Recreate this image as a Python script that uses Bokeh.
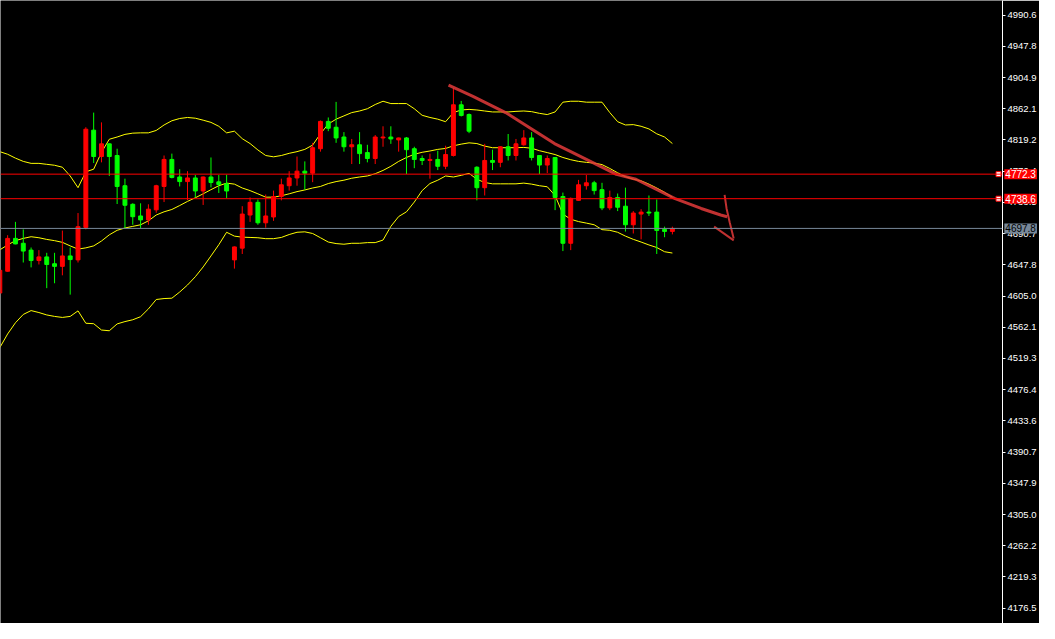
from bokeh.plotting import figure
from bokeh.models import Range1d, FixedTicker, Span, ColumnDataSource, PrintfTickFormatter, Text
from bokeh.core.properties import value
from bokeh.embed import file_html
from bokeh.resources import INLINE

# ---------------- data ----------------
bar_index = list(range(-1, 86))

opens = [4609.1, 4639.0, 4684.1, 4677.4, 4668.0, 4653.7, 4658.7, 4649.3, 4645.7, 4660.0,
         4654.6, 4699.2, 4832.7, 4796.5, 4813.9, 4797.9, 4756.4, 4730.9, 4714.9, 4709.5,
         4723.3, 4755.4, 4792.5, 4768.4, 4762.1, 4767.1, 4749.2, 4768.4, 4761.7, 4759.0,
         4654.6, 4670.7, 4716.2, 4733.6, 4705.5, 4713.5, 4741.6, 4756.4, 4767.1, 4776.4,
         4773.7, 4807.2, 4844.7, 4836.7, 4823.3, 4809.9, 4812.6, 4801.9, 4793.8, 4822.0,
         4823.3, 4819.3, 4822.0, 4807.2, 4793.8, 4791.1, 4792.5, 4783.1, 4797.9, 4867.5,
         4854.2, 4781.8, 4753.7, 4791.1, 4788.5, 4809.9, 4797.9, 4812.6, 4822.0, 4797.9,
         4784.8, 4795.2, 4741.6, 4677.4, 4736.3, 4756.4, 4760.4, 4751.0, 4726.0, 4740.3,
         4728.3, 4702.8, 4717.5, 4720.2, 4720.2, 4696.4, 4693.7]

highs = [4641.5, 4688.5, 4706.8, 4696.5, 4671.6, 4668.0, 4664.3, 4664.3, 4694.8, 4671.6,
         4718.9, 4836.7, 4856.8, 4843.4, 4814.5, 4807.2, 4766.1, 4732.3, 4732.3, 4730.9,
         4757.7, 4797.9, 4800.5, 4779.1, 4776.4, 4771.1, 4769.0, 4795.2, 4771.1, 4771.5,
         4673.0, 4728.3, 4740.3, 4737.6, 4744.3, 4749.7, 4766.1, 4776.4, 4796.5, 4789.8,
         4815.3, 4846.0, 4850.1, 4871.5, 4830.0, 4820.6, 4830.0, 4812.6, 4826.0, 4838.0,
         4838.0, 4822.5, 4823.3, 4809.9, 4797.9, 4800.5, 4804.5, 4811.3, 4890.2, 4872.8,
         4855.6, 4783.1, 4813.9, 4805.9, 4810.5, 4827.4, 4820.6, 4832.7, 4830.0, 4798.5,
         4797.9, 4795.8, 4747.0, 4740.3, 4764.4, 4771.1, 4763.1, 4760.4, 4749.7, 4745.7,
         4753.8, 4721.6, 4724.2, 4743.0, 4737.6, 4700.2, 4700.2]

lows = [4607.5, 4638.5, 4676.0, 4651.0, 4644.3, 4648.3, 4615.8, 4622.5, 4633.4, 4606.9,
        4651.0, 4696.5, 4787.6, 4788.5, 4769.8, 4731.3, 4698.4, 4702.8, 4698.4, 4702.8,
        4719.3, 4734.0, 4766.5, 4755.4, 4736.7, 4740.7, 4730.0, 4754.1, 4746.5, 4739.4,
        4642.6, 4662.7, 4706.8, 4702.8, 4698.8, 4708.2, 4736.3, 4749.7, 4756.4, 4751.0,
        4761.3, 4803.2, 4831.3, 4815.3, 4803.2, 4786.2, 4786.2, 4788.5, 4786.2, 4809.9,
        4813.9, 4803.2, 4772.5, 4780.5, 4784.8, 4766.1, 4777.9, 4779.1, 4796.5, 4851.5,
        4828.6, 4736.3, 4743.0, 4777.9, 4781.8, 4791.1, 4791.1, 4811.3, 4791.1, 4772.5,
        4773.8, 4722.9, 4666.7, 4668.0, 4735.8, 4751.0, 4744.3, 4722.9, 4722.9, 4721.6,
        4693.5, 4690.8, 4682.8, 4714.9, 4662.7, 4685.7, 4689.6]

closes = [4640.3, 4684.1, 4676.5, 4666.7, 4653.7, 4658.7, 4648.3, 4645.7, 4660.0, 4655.0,
          4700.2, 4834.0, 4796.5, 4813.9, 4796.5, 4755.4, 4729.6, 4713.9, 4709.5, 4724.2,
          4756.4, 4792.5, 4767.8, 4762.1, 4767.1, 4749.2, 4768.4, 4760.8, 4758.1, 4749.2,
          4672.4, 4717.5, 4733.6, 4705.5, 4714.9, 4741.6, 4757.7, 4767.1, 4776.4, 4773.7,
          4808.6, 4844.7, 4835.3, 4822.0, 4809.9, 4812.6, 4800.5, 4793.8, 4823.3, 4823.3,
          4820.6, 4822.0, 4805.9, 4792.5, 4791.1, 4792.5, 4783.1, 4799.2, 4867.5, 4852.9,
          4831.3, 4753.7, 4791.1, 4788.5, 4809.9, 4797.9, 4813.9, 4822.0, 4795.2, 4784.8,
          4793.8, 4740.3, 4677.4, 4739.0, 4757.7, 4760.4, 4749.7, 4726.0, 4740.3, 4726.9,
          4702.8, 4718.9, 4720.2, 4718.9, 4695.1, 4693.7, 4697.8]

bb_upper = [4803.2, 4799.6, 4794.3, 4789.8, 4787.1, 4787.1, 4785.8, 4784.5, 4781.8, 4769.8,
            4753.7, 4775.5, 4779.1, 4802.3, 4820.2, 4823.3, 4826.9, 4828.6, 4829.0, 4829.0,
            4832.3, 4839.8, 4845.6, 4848.7, 4850.1, 4849.1, 4846.4, 4843.4, 4838.0, 4829.0,
            4831.3, 4821.0, 4814.3, 4805.5, 4797.9, 4796.1, 4797.9, 4800.9, 4803.2, 4806.3,
            4812.2, 4827.7, 4841.1, 4847.8, 4852.3, 4856.8, 4859.0, 4862.1, 4867.9, 4872.4,
            4869.2, 4869.2, 4869.2, 4862.1, 4853.1, 4850.1, 4847.8, 4844.3, 4856.8, 4860.4,
            4861.2, 4860.4, 4859.0, 4857.7, 4857.7, 4857.7, 4858.5, 4859.0, 4858.1, 4855.8,
            4854.1, 4857.7, 4871.1, 4872.4, 4872.4, 4871.1, 4871.1, 4871.1, 4856.8, 4844.3,
            4839.8, 4840.3, 4838.0, 4834.4, 4827.7, 4823.3, 4814.3]

bb_middle = [4668.4, 4675.1, 4681.0, 4684.1, 4686.4, 4685.0, 4682.7, 4681.0, 4678.7, 4673.8,
             4669.4, 4671.1, 4673.8, 4680.5, 4689.0, 4695.2, 4698.4, 4700.6, 4702.8, 4708.2,
             4716.2, 4720.6, 4723.8, 4729.2, 4734.9, 4739.9, 4745.3, 4751.0, 4756.4, 4760.0,
             4758.6, 4753.3, 4749.7, 4745.3, 4740.7, 4740.7, 4742.6, 4745.3, 4748.3, 4750.6,
             4753.3, 4755.4, 4759.4, 4762.1, 4764.0, 4766.7, 4768.4, 4769.8, 4772.9, 4777.4,
             4783.1, 4789.8, 4795.2, 4799.6, 4802.3, 4804.1, 4806.3, 4807.6, 4811.2, 4813.5,
             4815.3, 4814.3, 4810.8, 4808.6, 4808.6, 4808.6, 4808.6, 4809.0, 4807.9, 4804.5,
             4801.9, 4799.2, 4795.2, 4792.1, 4789.8, 4788.5, 4787.5, 4785.4, 4780.1, 4774.2,
             4768.8, 4765.3, 4763.1, 4758.6, 4753.3, 4747.4, 4740.7]

bb_lower = [4534.2, 4552.9, 4568.3, 4579.7, 4585.0, 4582.3, 4579.0, 4577.0, 4575.6, 4577.0,
            4584.6, 4567.6, 4567.0, 4558.3, 4557.3, 4566.7, 4569.9, 4572.4, 4576.6, 4587.3,
            4600.2, 4601.5, 4602.0, 4610.5, 4620.1, 4631.5, 4644.9, 4660.0, 4675.4, 4692.5,
            4687.2, 4685.8, 4685.4, 4685.0, 4683.7, 4683.7, 4685.4, 4689.4, 4692.5, 4693.1,
            4690.8, 4685.0, 4679.1, 4677.0, 4676.1, 4677.4, 4677.4, 4678.3, 4678.3, 4681.8,
            4700.6, 4714.1, 4720.6, 4734.0, 4749.7, 4759.4, 4764.0, 4769.8, 4768.4, 4770.7,
            4773.4, 4765.3, 4760.8, 4759.0, 4759.0, 4759.0, 4759.0, 4760.0, 4758.6, 4756.4,
            4755.0, 4743.0, 4717.5, 4710.4, 4707.2, 4705.1, 4702.8, 4696.1, 4695.2, 4692.5,
            4687.2, 4682.8, 4679.1, 4675.1, 4671.6, 4665.8, 4664.0]

price_ticks = [4990.6, 4947.8, 4904.9, 4862.1, 4819.2, 4776.4, 4733.5, 4690.7, 4647.8, 4605.0,
               4562.1, 4519.3, 4476.4, 4433.6, 4390.7, 4347.9, 4305.0, 4262.2, 4219.3, 4176.5]

level_prices = [4772.3, 4738.6]
level_labels = ["4772.3", "4738.6"]
last_price = 4697.8
last_label = "4697.8"

# hand-drawn trend line and arrow (bar index, price)
trend_x = [56.375, 59.5, 63.675, 67.0, 69.925, 72.84, 75.34, 77.84, 80.34, 82.84, 85.34, 88.675, 91.175, 92.0]
trend_y = [4894.6, 4879.1, 4856.8, 4834.4, 4814.3, 4798.8, 4785.4, 4772.0, 4765.3, 4752.0, 4738.6, 4725.2, 4716.2, 4713.9]
arrow1_x = [91.675, 91.925, 92.34, 92.84]
arrow1_y = [4743.9, 4725.2, 4705.5, 4684.1]
arrow2_x = [90.34, 92.84]
arrow2_y = [4700.2, 4681.4]

# ---------------- figure ----------------
RED = "#ff0000"
GREEN = "#00ff00"
X_END = 127.21

p = figure(width=1039, height=623, output_backend="svg", toolbar_location=None,
           x_range=Range1d(-0.9125, X_END), y_range=Range1d(4155.4, 5010.7),
           x_axis_location=None, y_axis_location="right",
           background_fill_color="black", border_fill_color="black",
           min_border_left=0, min_border_top=0, min_border_bottom=0, min_border_right=0)
p.outline_line_color = None
p.xgrid.grid_line_color = None
p.ygrid.grid_line_color = None

ax = p.yaxis[0]
ax.ticker = FixedTicker(ticks=price_ticks)
ax.formatter = PrintfTickFormatter(format="%.1f")
ax.axis_line_color = "white"
ax.major_tick_line_color = "white"
ax.major_tick_in = 0
ax.major_tick_out = 3
ax.minor_tick_line_color = None
ax.major_label_text_color = "white"
ax.major_label_text_font = "Liberation Sans"
ax.major_label_text_font_size = "9.5px"
ax.major_label_standoff = 2

colors = [RED if c >= o else GREEN for o, c in zip(opens, closes)]
src = ColumnDataSource(dict(
    x=bar_index, o=opens, h=highs, l=lows, c=closes,
    top=[max(o, c) for o, c in zip(opens, closes)],
    bottom=[min(o, c) for o, c in zip(opens, closes)],
    color=colors))

# Bollinger bands
for band in (bb_upper, bb_middle, bb_lower):
    p.line(bar_index, band, line_color="#ffff00", line_width=1)

# horizontal levels
for lv in level_prices:
    p.add_layout(Span(location=lv, dimension="width", line_color=RED, line_width=1))
p.add_layout(Span(location=last_price, dimension="width", line_color="#778899", line_width=1))

# candles
p.segment(x0="x", y0="l", x1="x", y1="h", source=src, line_color="color", line_width=1)
p.vbar(x="x", width=0.5, top="top", bottom="bottom", source=src,
       fill_color="color", line_color="color", line_width=1)

# trend line drawing
p.line(trend_x, trend_y, line_color="#e23a3a", line_width=3, line_alpha=0.85)
p.line(arrow1_x, arrow1_y, line_color="#e23a3a", line_width=2, line_alpha=0.85)
p.line(arrow2_x, arrow2_y, line_color="#e23a3a", line_width=2, line_alpha=0.85)

# level anchors
p.scatter([126.7] * len(level_prices), level_prices, marker="square", size=5,
          fill_color="white", line_color=RED, line_width=1)

# price tags drawn over the axis strip (overlay level -> not clipped to the frame)
tag_src = ColumnDataSource(dict(
    x=[X_END - 0.02] * 3,
    y=level_prices + [last_price],
    text=level_labels + [last_label],
    bg=[RED, RED, "#778899"],
    fg=["white", "white", "black"]))
has_bg = "background_fill_color" in Text.properties()
if has_bg:
    p.text(x="x", y="y", text="text", source=tag_src, x_offset=2,
           text_color="fg", text_font=value("Liberation Sans"), text_font_size="10px",
           text_baseline="middle", text_align="left",
           background_fill_color="bg", padding=1, level="overlay")
else:
    p.quad(left="x", right=[X_END + 4.0] * 3,
           bottom=[v - 4.0 for v in level_prices + [last_price]],
           top=[v + 4.0 for v in level_prices + [last_price]],
           source=tag_src, fill_color="bg", line_color=None, level="overlay")
    p.text(x="x", y="y", text="text", source=tag_src, x_offset=3,
           text_color="fg", text_font=value("Liberation Sans"), text_font_size="10px",
           text_baseline="middle", text_align="left", level="overlay")

open("out.html", "w").write(file_html(p, INLINE))
